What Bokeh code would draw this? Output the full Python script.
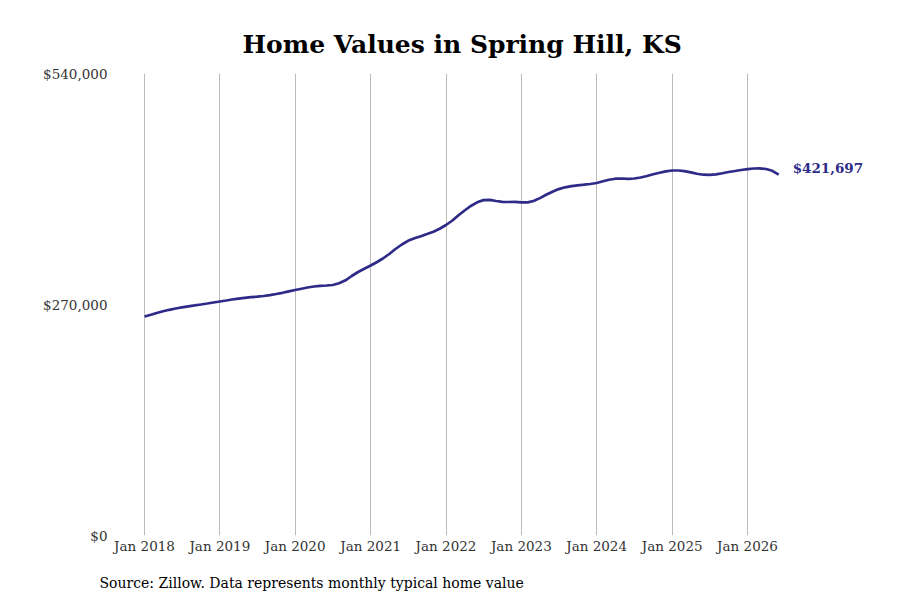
import pandas as pd
from bokeh.plotting import figure
from bokeh.models import Range1d, FixedTicker, DatetimeTickFormatter, NumeralTickFormatter, Label, Title
from bokeh.embed import file_html
from bokeh.resources import INLINE

# ---- data ----
title_text = "Home Values in Spring Hill, KS"
source_text = "Source: Zillow. Data represents monthly typical home value"
dates = pd.date_range("2018-01-01", "2026-06-01", freq="MS")
values = [
    255967, 257954, 260058, 262045, 263798, 265318, 266603, 267889, 268941, 269993, 271162, 272330,
    273499, 274668, 275837, 276889, 277824, 278525, 279109, 279928, 280980, 282265, 283668, 285304,
    286940, 288460, 289862, 291031, 291849, 292200, 292784, 294771, 298278, 303304, 307979, 311836,
    315576, 319667, 323758, 329017, 334861, 340121, 344445, 347367, 349822, 352393, 355081, 358588,
    362912, 368172, 374016, 379860, 385120, 389444, 392016, 392366, 390964, 390029, 389795, 389912,
    389327, 389444, 390964, 394353, 398210, 401833, 404872, 406976, 408379, 409314, 410015, 410833,
    412002, 413989, 415859, 417028, 417262, 416911, 417262, 418430, 420184, 422171, 424041, 425677,
    426612, 426612, 425911, 424508, 422872, 421703, 421469, 422171, 423457, 424859, 426028, 427196,
    428131, 428950, 429183, 428365, 426261, 421697,
]
tick_years = [2018, 2019, 2020, 2021, 2022, 2023, 2024, 2025, 2026]
y_ticks = [0, 270000, 540000]
end_label = "$421,697"

LINE_COLOR = "#2e2b88"
FONT = "DejaVu Serif"

def ms(ts):
    return pd.Timestamp(ts).value / 1e6

tick_ms = [ms(f"{y}-01-01") for y in tick_years]
year_ms = 365.25 * 24 * 3600 * 1000
x_start = ms("2018-01-01") - 0.385 * year_ms
x_end = x_start + (765 / 75.375) * year_ms

p = figure(width=892, height=598, x_axis_type="datetime",
           output_backend="svg", toolbar_location=None,
           min_border_left=115, min_border_right=12,
           min_border_top=73, min_border_bottom=63)
p.x_range = Range1d(x_start, x_end)
p.y_range = Range1d(0, 540000)
p.outline_line_color = None
p.background_fill_color = "white"
p.border_fill_color = "white"

p.title.text = title_text
p.title.align = "left"
p.title.offset = 127
p.title.text_font = FONT
p.title.text_font_size = "25px"
p.title.text_font_style = "bold"
p.title.text_color = "black"
p.title.standoff = 30

p.line(dates, values, line_color=LINE_COLOR, line_width=2.7)

# axes
p.xaxis.ticker = FixedTicker(ticks=tick_ms)
p.xaxis.formatter = DatetimeTickFormatter(years="%b %Y", months="%b %Y", days="%b %Y")
p.yaxis.ticker = FixedTicker(ticks=y_ticks)
p.yaxis.formatter = NumeralTickFormatter(format="$0,0")
for ax in (p.xaxis[0], p.yaxis[0]):
    ax.axis_line_color = None
    ax.major_tick_line_color = None
    ax.minor_tick_line_color = None
    ax.major_tick_out = 0
    ax.major_tick_in = 0
    ax.minor_tick_out = 0
    ax.minor_tick_in = 0
    ax.major_label_text_font = FONT
    ax.major_label_text_font_size = "13.5px"
    ax.major_label_text_color = "#333333"
p.xaxis.major_label_standoff = 2
p.yaxis.major_label_standoff = 8

p.ygrid.grid_line_color = None
p.xgrid.grid_line_color = "#bbbbbb"
p.xgrid.grid_line_width = 1

# end label
p.add_layout(Label(x=ms(dates[-1]), y=values[-1], text=end_label, x_offset=14, y_offset=7,
                   text_font=FONT, text_font_size="13.5px", text_font_style="bold",
                   text_color=LINE_COLOR, text_baseline="middle"))

# spacer + source
spacer = Title(text=" ", text_font_size="12px", standoff=0, text_color="white")
p.add_layout(spacer, "below")
src = Title(text=source_text, align="left", offset=-16, standoff=0,
            text_font=FONT, text_font_size="14px", text_font_style="normal",
            text_color="black")
p.add_layout(src, "below")

open("out.html", "w").write(file_html(p, INLINE))
